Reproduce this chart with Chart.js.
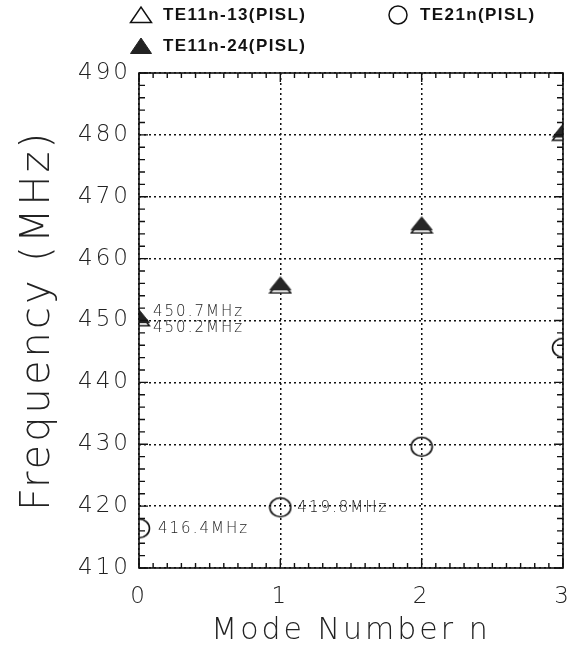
<!DOCTYPE html>
<html lang="en">
<head>
	<title>Mode frequencies</title>
	<script src="https://cdn.jsdelivr.net/npm/chart.js@4/dist/chart.umd.min.js"></script>
	<style>
		body { margin: 0; background: #fff; }
		#wrap { position: relative; width: 572px; height: 654px; }
		#c1 { position: absolute; left: 0; top: 0; }
		.leg { position: absolute; font: bold 17px "Liberation Sans", Arial, sans-serif; letter-spacing: 1.4px; color: #111; white-space: nowrap; }
		.leg svg { position: absolute; left: -34px; top: 0px; }
	</style>
</head>
<body>
	<div id="wrap">
		<canvas id="c1" width="572" height="654"></canvas>
		<div class="leg" style="left:163px; top:5px;">
			<svg width="24" height="20"><polygon points="1.5,17.5 22.5,17.5 12,2" fill="#fff" stroke="#111" stroke-width="1.5"/></svg>TE11n-13(PISL)</div>
		<div class="leg" style="left:420px; top:5px;">
			<svg width="24" height="20"><circle cx="12" cy="10" r="9" fill="none" stroke="#111" stroke-width="1.5"/></svg>TE21n(PISL)</div>
		<div class="leg" style="left:163px; top:36px;">
			<svg width="24" height="20"><polygon points="1.5,17.5 22.5,17.5 12,2" fill="#222" stroke="#222" stroke-width="1"/></svg>TE11n-24(PISL)</div>
	</div>
	<script>
	// mode number n
	var modes = [0, 1, 2, 3];
	// frequencies in MHz
	var te11_13 = [450.2, 455.5, 465.2, 480.2];
	var te11_24 = [450.7, 456.0, 465.7, 480.7];
	var te21 = [416.4, 419.8, 429.6, 445.6];
	var yTicks = [410, 420, 430, 440, 450, 460, 470, 480, 490];
	var xTicks = [0, 1, 2, 3];

	var FONT = '"DejaVu Sans", "Lato", sans-serif';

	function points(vals)
	{
		return modes.map(function(n, i) { return {x: n, y: vals[i]}; });
	}

	function triangleImg(fill, stroke, lw)
	{
		var c = document.createElement('canvas');
		c.width = 24; c.height = 16;
		var g = c.getContext('2d');
		g.beginPath();
		g.moveTo(1.5, 14.5); g.lineTo(22.5, 14.5); g.lineTo(12, 1.5); g.closePath();
		g.fillStyle = fill; g.fill();
		g.lineWidth = lw; g.strokeStyle = stroke; g.stroke();
		return c;
	}
	function circleImg()
	{
		var c = document.createElement('canvas');
		c.width = 24; c.height = 22;
		var g = c.getContext('2d');
		g.beginPath();
		g.ellipse(12, 11, 10.5, 9.5, 0, 0, Math.PI * 2);
		g.lineWidth = 1.6; g.strokeStyle = '#111'; g.stroke();
		return c;
	}

	// value labels next to some points: [series, index, dx, dy]
	var notes = [
		[te11_24, 0, 14, -4],
		[te11_13, 0, 14, 9],
		[te21, 0, 19, 1],
		[te21, 1, 17, 1]
	];

	var framePlugin = {
		id: 'frame',
		beforeDraw: function(chart) {
			chart.ctx.letterSpacing = '3px';
		},
		afterDraw: function(chart) {
			var ctx = chart.ctx, a = chart.chartArea;
			var xs = chart.scales.x, ys = chart.scales.y;
			ctx.save();
			ctx.strokeStyle = '#111';
			ctx.lineWidth = 1.6;
			ctx.strokeRect(a.left, a.top, a.right - a.left, a.bottom - a.top);
			ctx.lineWidth = 1.4;
			ctx.beginPath();
			// y ticks every 2 MHz, pointing inward
			for (var v = 410; v <= 490; v += 2) {
				var py = ys.getPixelForValue(v);
				var len = (v % 10 === 0) ? 9 : 6;
				ctx.moveTo(a.left, py); ctx.lineTo(a.left + len, py);
				ctx.moveTo(a.right, py); ctx.lineTo(a.right - len, py);
			}
			// x ticks every 0.1
			for (var k = 0; k <= 30; k++) {
				var px = xs.getPixelForValue(k / 10);
				var l2 = (k % 10 === 0) ? 9 : 5;
				ctx.moveTo(px, a.bottom); ctx.lineTo(px, a.bottom - l2);
				ctx.moveTo(px, a.top); ctx.lineTo(px, a.top + l2);
			}
			ctx.stroke();
			ctx.restore();
		},
		afterDatasetsDraw: function(chart) {
			var ctx = chart.ctx;
			var xs = chart.scales.x, ys = chart.scales.y;
			ctx.save();
			ctx.font = '200 15px ' + FONT;
			ctx.letterSpacing = '2px';
			ctx.fillStyle = '#222';
			ctx.textBaseline = 'middle';
			ctx.textAlign = 'left';
			notes.forEach(function(n) {
				var val = n[0][n[1]];
				var px = xs.getPixelForValue(modes[n[1]]);
				var py = ys.getPixelForValue(val);
				ctx.fillText(val.toFixed(1) + 'MHz', px + n[2], py + n[3]);
			});
			ctx.restore();
		}
	};

	var config = {
		type: 'scatter',
		plugins: [framePlugin],
		data: {
			datasets: [
				{label: 'TE11n-13(PISL)', data: points(te11_13), pointStyle: triangleImg('#fff', '#111', 1.5), order: 2},
				{label: 'TE21n(PISL)', data: points(te21), pointStyle: circleImg(), order: 1},
				{label: 'TE11n-24(PISL)', data: points(te11_24), pointStyle: triangleImg('#262626', '#222', 1), order: 0}
			]
		},
		options: {
			responsive: false,
			animation: false,
			layout: { padding: {top: 73, right: 9, bottom: 0, left: 0} },
			plugins: { legend: {display: false}, tooltip: {enabled: false} },
			scales: {
				x: {
					type: 'linear', min: 0, max: 3,
					afterBuildTicks: function(s) { s.ticks = xTicks.map(function(v) { return {value: v}; }); },
					afterFit: function(s) { s.height = 86; s.paddingLeft = 0; s.paddingRight = 0; },
					ticks: { padding: 15, color: '#222', font: {family: FONT, size: 23, weight: '200'} },
					grid: { color: '#111', lineWidth: 1.5, drawTicks: false },
					border: { display: false, dash: [2, 3] },
					title: { display: true, text: 'Mode Number n', color: '#222', padding: {top: 0, bottom: 5},
						font: {family: FONT, size: 30, weight: '200'} }
				},
				y: {
					type: 'linear', min: 410, max: 490,
					afterBuildTicks: function(s) { s.ticks = yTicks.map(function(v) { return {value: v}; }); },
					afterFit: function(s) { s.width = 139; },
					ticks: { padding: 8, color: '#222', font: {family: FONT, size: 23, weight: '200'} },
					grid: { color: '#111', lineWidth: 1.5, drawTicks: false },
					border: { display: false, dash: [2, 3] },
					title: { display: true, text: 'Frequency (MHz)', color: '#222', padding: {top: 15, bottom: 0},
						font: {family: FONT, size: 40, weight: '200'} }
				}
			}
		}
	};

	var chart = new Chart(document.getElementById('c1'), config);
	</script>
</body>
</html>
